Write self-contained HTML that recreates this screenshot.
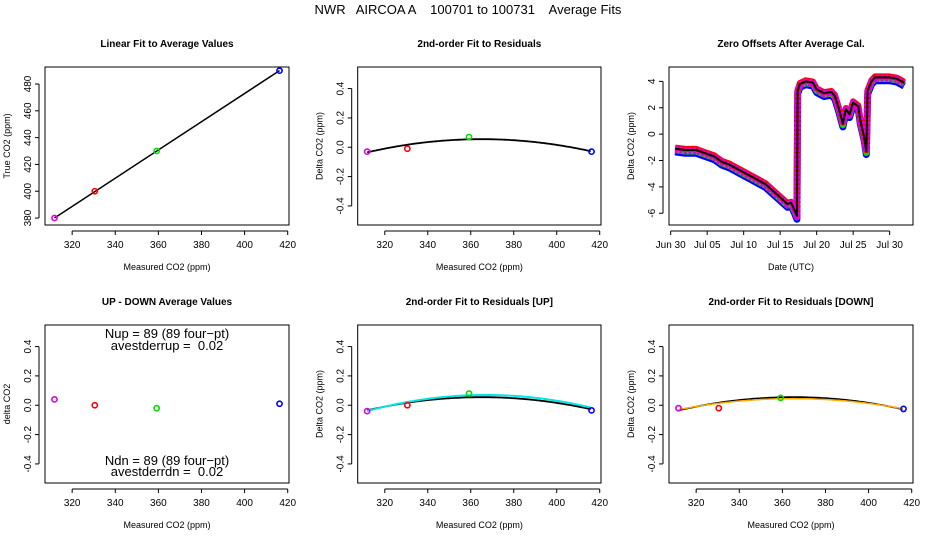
<!DOCTYPE html>
<html><head><meta charset="utf-8"><style>
body{margin:0;background:#fff}
svg{display:block;font-family:"Liberation Sans",sans-serif}
</style></head><body>
<svg id="c" width="936" height="540" xmlns="http://www.w3.org/2000/svg">
<rect width="936" height="540" fill="#fff"/>
<text x="468" y="14" text-anchor="middle" font-size="13" style="white-space:pre" xml:space="preserve">NWR   AIRCOA A    100701 to 100731    Average Fits</text>
</svg>
<script>
// ---- data ----
const measured = [311.8, 330.5, 359.2, 416.2];
const trueVals = [380, 400, 430, 490];
const residuals = [-0.03, -0.01, 0.07, -0.03];
const residualsUp = [-0.04, 0.0, 0.08, -0.035];
const residualsDn = [-0.02, -0.02, 0.05, -0.025];
const upDown = [0.04, 0.0, -0.02, 0.01];
const ptColors = ["#e000e0", "#ff0000", "#00dd00", "#0000ff"];
// quadratic fits in vertex form: [curvature, vertex x, peak value]
const fitCoef = [0.0000318, 365, 0.055];
const fitCoefUp = [0.000036, 367, 0.07];
const fitCoefDn = [0.0000265, 365, 0.045];
const offsetDays = [0.6,2,3.5,5,6,7,8,9,10,11,12,13,14,15,16,16.5,17,17.3,17.4,17.7,18.5,19.5,20,21,22,22.5,23,23.6,24,24.5,25,25.7,26,26.5,26.8,27,27.5,28,30,31,32];
const offsetVals = [-1.1,-1.2,-1.2,-1.5,-1.7,-2.1,-2.3,-2.6,-2.9,-3.2,-3.5,-3.8,-4.3,-4.8,-5.3,-5.2,-5.8,-6.2,3.3,3.8,4.0,3.9,3.4,3.1,3.2,2.9,2.0,0.8,1.9,1.5,2.4,2.1,1.0,-0.2,-1.3,3.3,4.0,4.3,4.3,4.2,3.9];
const dateTicks = [0,5,10,15,20,25,30];
const dateLabels = ["Jun 30","Jul 05","Jul 10","Jul 15","Jul 20","Jul 25","Jul 30"];
const co2Ticks = [320,340,360,380,400,420];
const residTicks = [-0.4,-0.2,0,0.2,0.4];
const residLabels = ["-0.4","-0.2","0.0","0.2","0.4"];
const trueTicks = [380,400,420,440,460,480];
const offTicks = [-6,-4,-2,0,2,4];

const svg = document.getElementById('c');
const NS = 'http://www.w3.org/2000/svg';
function el(tag, attrs, parent){
  const e = document.createElementNS(NS, tag);
  for (const k in attrs) e.setAttribute(k, attrs[k]);
  (parent||svg).appendChild(e);
  return e;
}
function panel(name, x0, y0, x1, y1, xd, yd){
  const g = el('g', {});
  
  
  const sx = v => x0 + (v - xd[0]) / (xd[1] - xd[0]) * (x1 - x0);
  const sy = v => y1 - (v - yd[0]) / (yd[1] - yd[0]) * (y1 - y0);
  const box = el('rect', {x:x0, y:y0, width:x1-x0, height:y1-y0, fill:'none', stroke:'#000', 'stroke-width':1}, g);
  
  
  return {g, sx, sy, x0, y0, x1, y1};
}
function axes(p, xt, xl, yt, yl, title, xtitle, ytitle){
  const xa = el('g', {}, p.g);
  
  
  el('line', {x1:p.sx(xt[0]), x2:p.sx(xt[xt.length-1]), y1:p.y1+6, y2:p.y1+6, stroke:'#000'}, xa);
  xt.forEach((t,i)=>{
    el('line', {x1:p.sx(t), x2:p.sx(t), y1:p.y1+6, y2:p.y1+10, stroke:'#000'}, xa);
    const tx = el('text', {x:p.sx(t), y:p.y1+23, 'text-anchor':'middle', 'font-size':10}, xa);
    tx.textContent = xl[i];
    
    
  });
  const ya = el('g', {}, p.g);
  
  
  el('line', {x1:p.x0-6, x2:p.x0-6, y1:p.sy(yt[0]), y2:p.sy(yt[yt.length-1]), stroke:'#000'}, ya);
  yt.forEach((t,i)=>{
    el('line', {x1:p.x0-10, x2:p.x0-6, y1:p.sy(t), y2:p.sy(t), stroke:'#000'}, ya);
    const X = p.x0-14, Y = p.sy(t);
    const tx = el('text', {x:X, y:Y, 'text-anchor':'middle', 'font-size':10, transform:`rotate(-90 ${X} ${Y})`}, ya);
    tx.textContent = yl[i];
    
    
  });
  const ti = el('text', {x:(p.x0+p.x1)/2, y:p.y0-20, 'text-anchor':'middle', 'font-size':10, 'font-weight':'bold'}, p.g);
  ti.textContent = title;
  
  
  const xtt = el('text', {x:(p.x0+p.x1)/2, y:p.y1+45, 'text-anchor':'middle', 'font-size':9}, p.g);
  xtt.textContent = xtitle;
  
  
  const X = p.x0-35, Y = (p.y0+p.y1)/2;
  const ytt = el('text', {x:X, y:Y, 'text-anchor':'middle', 'font-size':9, transform:`rotate(-90 ${X} ${Y})`}, p.g);
  ytt.textContent = ytitle;
  
  
}
function points(p, xs, ys){
  xs.forEach((x,i)=>{
    const c = el('circle', {cx:p.sx(x), cy:p.sy(ys[i]), r:2.6, fill:'none', stroke:ptColors[i], 'stroke-width':1.6}, p.g);
    
    
  });
}
function curve(p, coef, color, w){
  let d = '';
  for (let x = measured[0]; x <= measured[3] + 0.01; x += 1){
    const y = coef[2] - coef[0]*(x-coef[1])*(x-coef[1]);
    d += (d ? 'L' : 'M') + p.sx(x).toFixed(1) + ',' + p.sy(y).toFixed(1);
  }
  const l = el('path', {d, fill:'none', stroke:color, 'stroke-width':w}, p.g);
  
  
}
const fmt = a => a.map(String);
const XD = [307.4, 420.6], RD = [-0.53, 0.547];
const cols = [[45,289],[357.7,601],[669,913]];
const rows = [[67,225],[325,483]];

// Panel 1
let p = panel('linear-fit-panel', cols[0][0], rows[0][0], cols[0][1], rows[0][1], XD, [374.8, 492.7]);
axes(p, co2Ticks, fmt(co2Ticks), trueTicks, fmt(trueTicks), 'Linear Fit to Average Values', 'Measured CO2 (ppm)', 'True CO2 (ppm)');
let ln = el('line', {x1:p.sx(measured[0]), y1:p.sy(trueVals[0]), x2:p.sx(measured[3]), y2:p.sy(trueVals[3]), stroke:'#000', 'stroke-width':1.5}, p.g);


points(p, measured, trueVals);

// Panel 2
p = panel('residual-fit-panel', cols[1][0], rows[0][0], cols[1][1], rows[0][1], XD, RD);
axes(p, co2Ticks, fmt(co2Ticks), residTicks, residLabels, '2nd-order Fit to Residuals', 'Measured CO2 (ppm)', 'Delta CO2 (ppm)');
curve(p, fitCoef, '#000', 1.8);
points(p, measured, residuals);

// Panel 3
p = panel('zero-offsets-panel', cols[2][0], rows[0][0], cols[2][1], rows[0][1], [-0.23, 33.2], [-6.89, 5.09]);
axes(p, dateTicks, dateLabels, offTicks, fmt(offTicks), 'Zero Offsets After Average Cal.', 'Date (UTC)', 'Delta CO2 (ppm)');
const series = [['#0000ff',-0.25,7],['#00dd00',-0.12,6],['#ff0000',0.08,6],['#e000e0',-0.05,7],['#000',0,2]];
series.forEach(s=>{
  let d='';
  offsetDays.forEach((t,i)=>{ d += (i?'L':'M') + p.sx(t).toFixed(1) + ',' + p.sy(offsetVals[i]+s[1]).toFixed(1); });
  const attrs = {d, fill:'none', stroke:s[0], 'stroke-width':s[2], 'stroke-linejoin':'round'};
  if (s[0]==='#e000e0') attrs['stroke-dasharray']='3 1.5';
  const l = el('path', attrs, p.g);
  
  
});

// Panel 4
p = panel('up-down-panel', cols[0][0], rows[1][0], cols[0][1], rows[1][1], XD, RD);
axes(p, co2Ticks, fmt(co2Ticks), residTicks, residLabels, 'UP - DOWN Average Values', 'Measured CO2 (ppm)', 'delta CO2');
points(p, measured, upDown);
[['Nup = 89 (89 four\u2212pt)',338],['avestderrup =  0.02',350],['Ndn = 89 (89 four\u2212pt)',465],['avestderrdn =  0.02',476]].forEach(a=>{
  const t = el('text', {x:167, y:a[1], 'text-anchor':'middle', 'font-size':13, 'xml:space':'preserve', style:'white-space:pre'}, p.g);
  t.textContent = a[0];
  
  
});

// Panel 5
p = panel('residual-up-panel', cols[1][0], rows[1][0], cols[1][1], rows[1][1], XD, RD);
axes(p, co2Ticks, fmt(co2Ticks), residTicks, residLabels, '2nd-order Fit to Residuals [UP]', 'Measured CO2 (ppm)', 'Delta CO2 (ppm)');
curve(p, fitCoef, '#000', 1.8);
curve(p, fitCoefUp, '#00e5e5', 2);
points(p, measured, residualsUp);

// Panel 6
p = panel('residual-down-panel', cols[2][0], rows[1][0], cols[2][1], rows[1][1], XD, RD);
axes(p, co2Ticks, fmt(co2Ticks), residTicks, residLabels, '2nd-order Fit to Residuals [DOWN]', 'Measured CO2 (ppm)', 'Delta CO2 (ppm)');
curve(p, fitCoef, '#000', 1.8);
curve(p, fitCoefDn, '#ffaa00', 1.5);
points(p, measured, residualsDn);
</script>
</body></html>
